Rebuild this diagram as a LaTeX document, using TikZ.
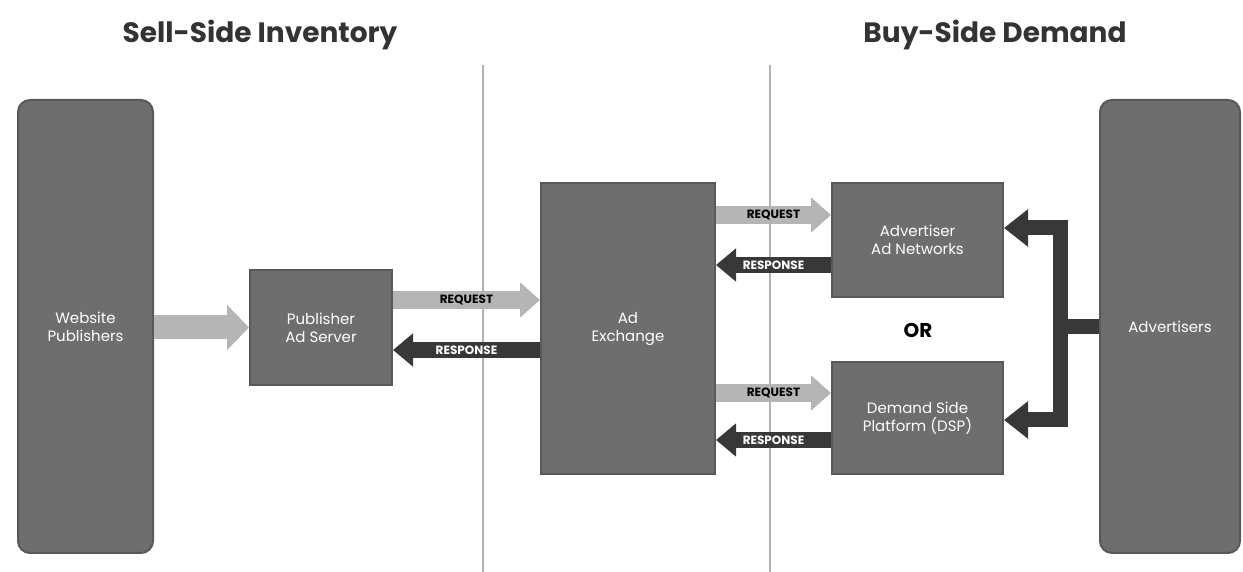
\documentclass[tikz,border=0pt]{standalone}
\usepackage{fontspec}
\setmainfont{Poppins}
\usetikzlibrary{arrows.meta}
\definecolor{boxgray}{HTML}{6E6E6E}
\definecolor{boxedge}{HTML}{595959}
\definecolor{reqgray}{HTML}{B5B5B5}
\definecolor{respdark}{HTML}{383838}
\definecolor{titlegray}{HTML}{333333}
\begin{document}
\begin{tikzpicture}[x=0.5pt,y=0.5pt,
  unit/.style={draw=boxedge,fill=boxgray,line width=1pt,text=white,align=center,
    font=\fontsize{7.5}{9}\selectfont,inner sep=0pt},
  feed/.style={draw=reqgray,line width=12pt,-{Triangle[length=11pt,width=22pt]}},
  req/.style={draw=reqgray,line width=9pt,-{Triangle[length=10pt,width=17pt]}},
  resp/.style={draw=respdark,line width=8pt,-{Triangle[length=10pt,width=16pt]}},
  bracket/.style={draw=respdark,line width=7.5pt,line join=miter},
  tag/.style={font=\fontsize{6}{6}\selectfont\bfseries,inner sep=1pt},
  divider/.style={draw=gray!60,line width=0.8pt},
  title/.style={font=\fontsize{14}{16}\selectfont\bfseries,text=titlegray}]
\useasboundingbox (0,0) rectangle (1243,572);

% column titles and dividers
\node[title] (selltitle) at (260,537) {Sell-Side Inventory};
\node[title] (buytitle) at (995,537) {Buy-Side Demand};
\draw[divider] (483,507) -- (483,0);
\draw[divider] (770,507) -- (770,0);

% boxes
\node[unit,rounded corners=6pt,minimum width=67.5pt,minimum height=226.5pt] (pub) at (85.5,245.5) {Website\\Publishers};
\node[unit,minimum width=71pt,minimum height=57.5pt] (pas) at (321,244.5) {Publisher\\Ad Server};
\node[unit,minimum width=87pt,minimum height=145.5pt] (adx) at (628,243.5) {Ad\\Exchange};
\node[unit,minimum width=85.5pt,minimum height=57pt] (adnet) at (917.5,332) {Advertiser\\Ad Networks};
\node[unit,minimum width=85.5pt,minimum height=56pt] (dsp) at (917.5,154) {Demand Side\\Platform (DSP)};
\node[unit,rounded corners=6pt,minimum width=70pt,minimum height=226.5pt] (adv) at (1170,245.5) {Advertisers};
\node[font=\fontsize{10}{12}\selectfont\bfseries] (or) at (918,242) {OR};

% sell side flow
\draw[feed] (pub.east |- pas.west) -- (pas.west);
\draw[req] ([yshift=13.75pt]pas.east) -- ([yshift=13.75pt]pas.east -| adx.west) node[midway,tag]{REQUEST};
\draw[resp] ([yshift=-10.75pt]adx.west) -- ([yshift=-10.75pt]adx.west -| pas.east) node[midway,tag,text=white]{RESPONSE};

% buy side flow
\draw[req] ([yshift=12.5pt]adnet.west -| adx.east) -- ([yshift=12.5pt]adnet.west) node[midway,tag]{REQUEST};
\draw[resp] ([yshift=-12.5pt]adnet.west) -- ([yshift=-12.5pt]adnet.west -| adx.east) node[midway,tag,text=white]{RESPONSE};
\draw[req] ([yshift=12.5pt]dsp.west -| adx.east) -- ([yshift=12.5pt]dsp.west) node[midway,tag]{REQUEST};
\draw[resp] ([yshift=-11pt]dsp.west) -- ([yshift=-11pt]dsp.west -| adx.east) node[midway,tag,text=white]{RESPONSE};

% advertisers fork
\coordinate (fork) at (1060,245.5);
\draw[bracket] (adv.west) -- (fork);
\draw[bracket,-{Triangle[length=12pt,width=18pt]}] (fork) |- ([yshift=6pt]adnet.east);
\draw[bracket,-{Triangle[length=12pt,width=18pt]}] (fork) |- ([yshift=-1pt]dsp.east);
\end{tikzpicture}
\end{document}
